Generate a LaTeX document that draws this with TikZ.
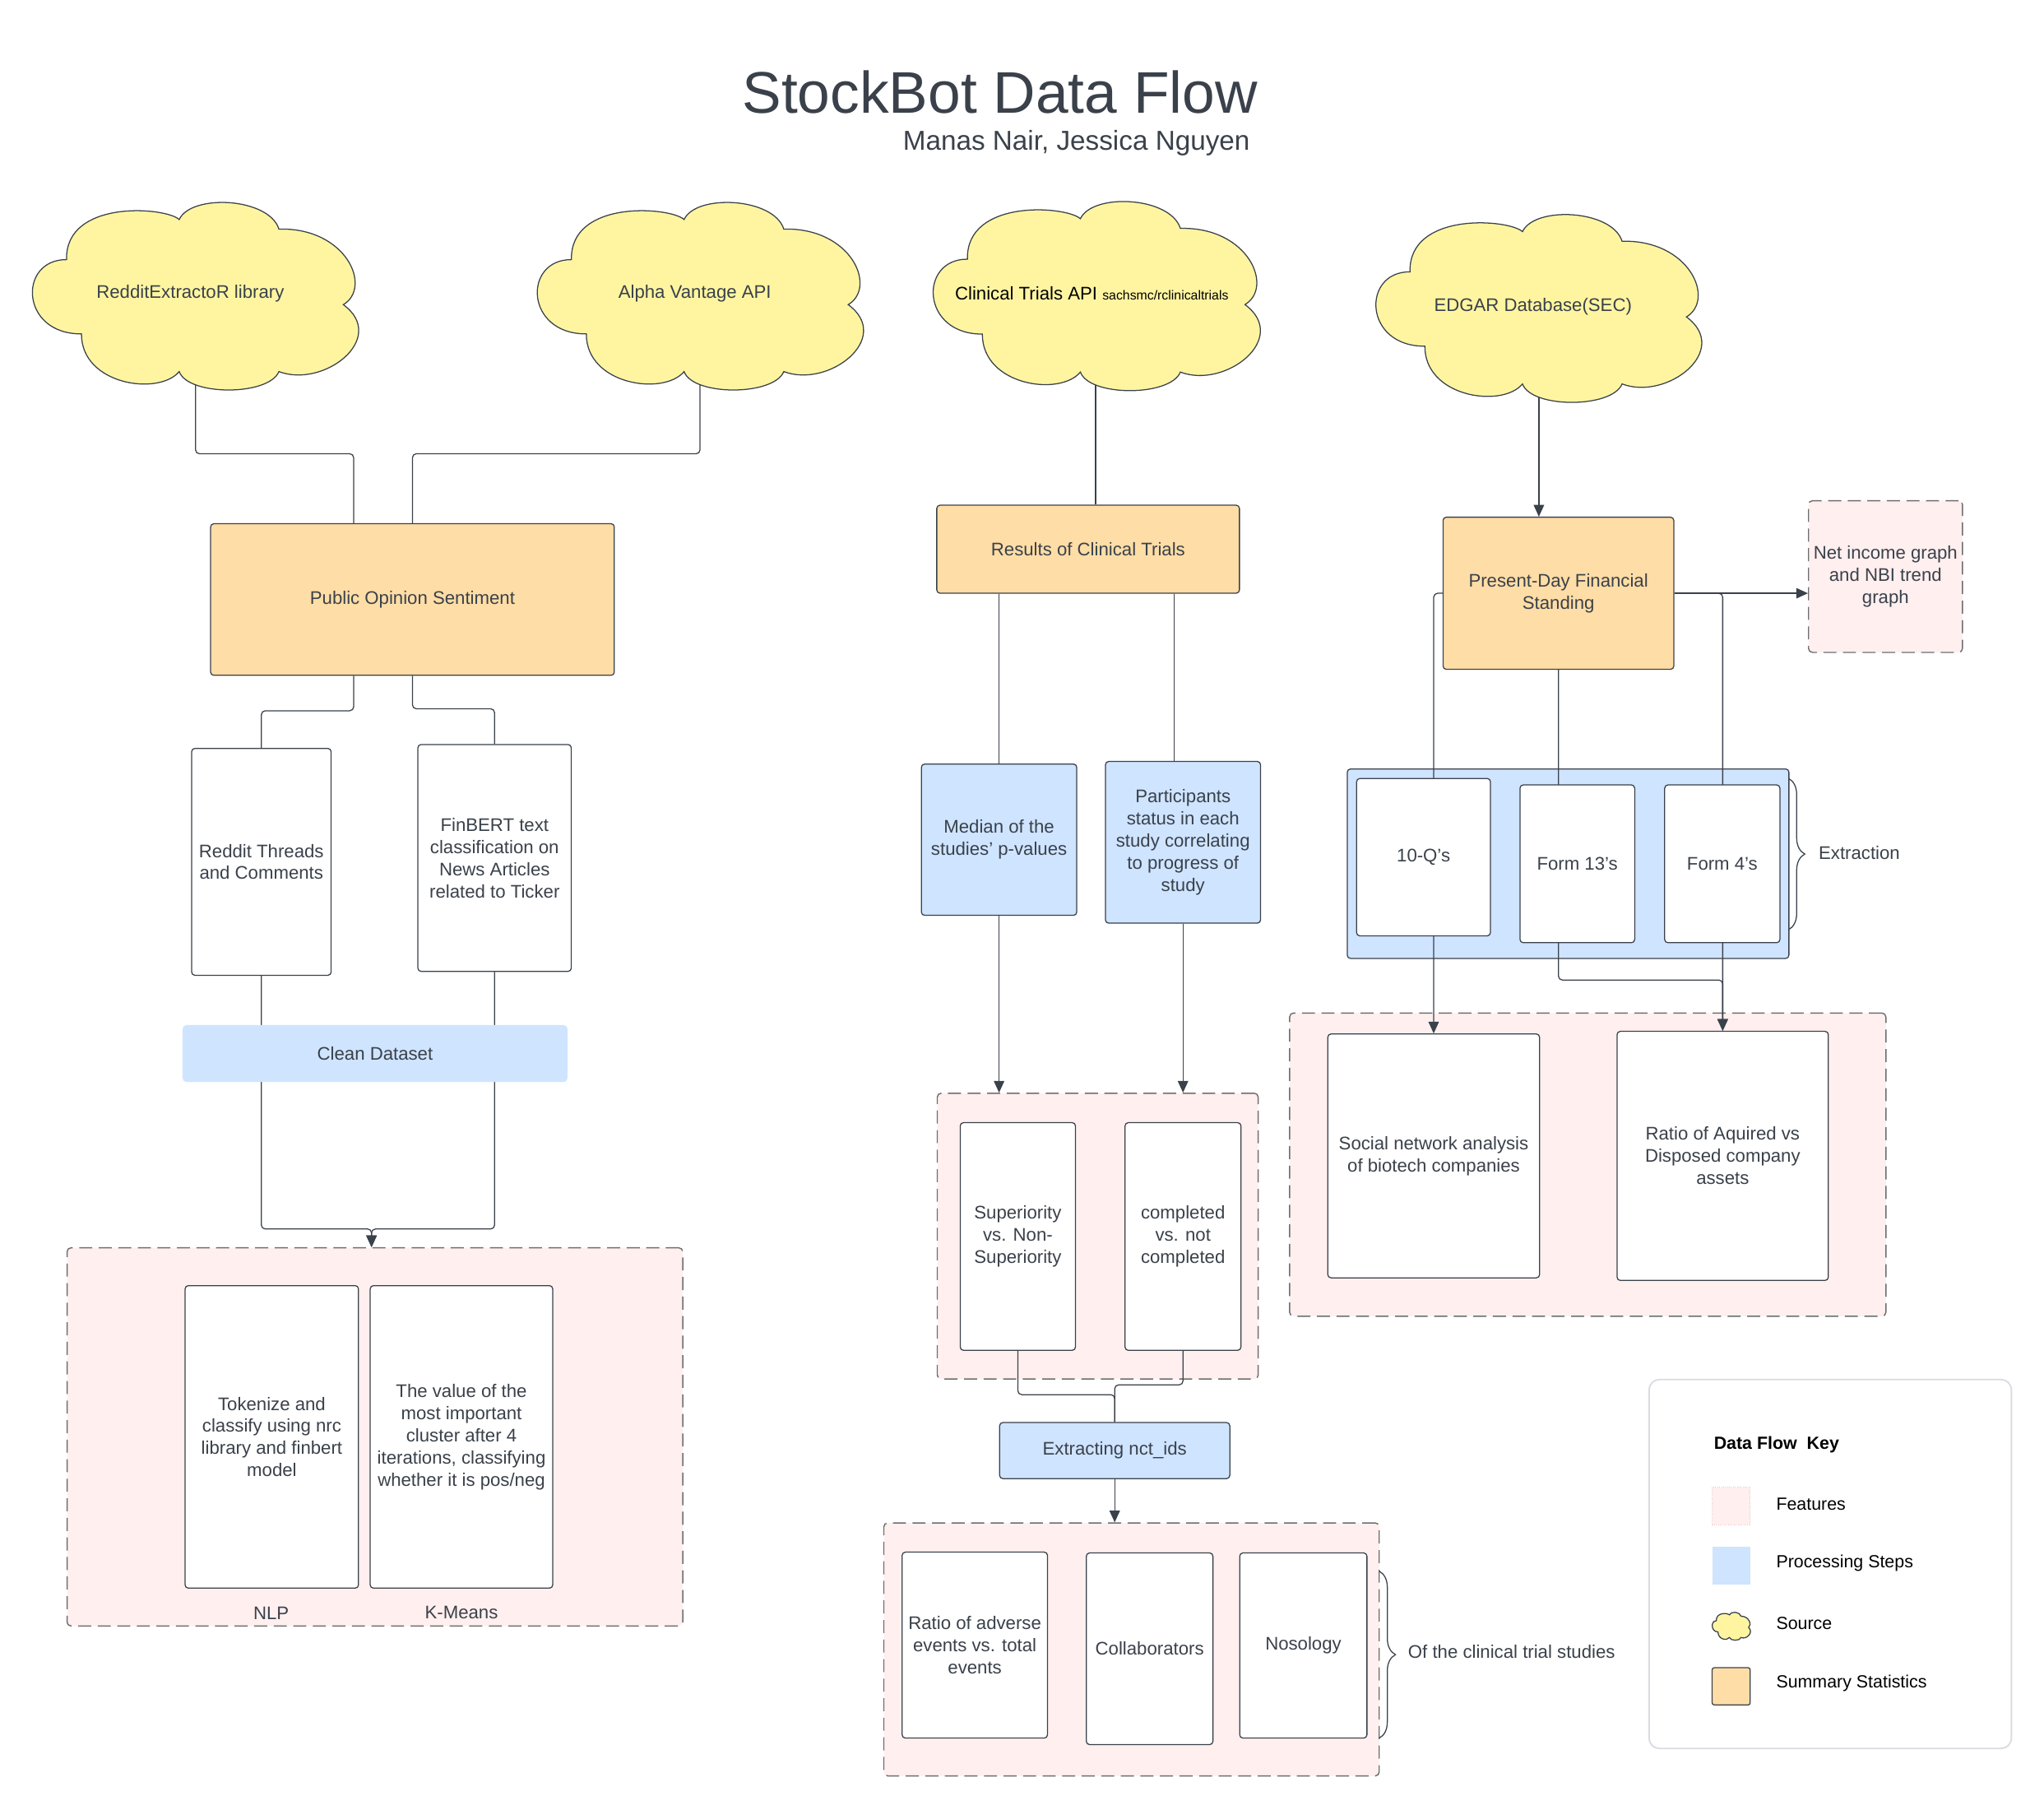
\documentclass[tikz,border=0pt]{standalone}
\usepackage{fontspec}
\setmainfont{Liberation Sans}
\usetikzlibrary{arrows.meta,decorations.pathreplacing,calc}
\definecolor{linec}{HTML}{3A414A}
\definecolor{textc}{HTML}{3A414A}
\definecolor{orangef}{HTML}{FFDDA6}
\definecolor{yellowf}{HTML}{FFF5A1}
\definecolor{bluef}{HTML}{CFE4FF}
\definecolor{pinkf}{HTML}{FFEFEF}
\definecolor{dashc}{HTML}{6E6E6E}
\definecolor{legbord}{HTML}{D9DCE1}
\definecolor{pinkbord}{HTML}{F2C4C4}
\pgfdeclarelayer{bg}\pgfdeclarelayer{edges}\pgfsetlayers{bg,edges,main}
\newcommand\myfs[2]{\fontsize{#1}{#2}\selectfont}
\newcommand\mycloudshape[4]{%
\begin{scope}[shift={(#1,#2)},xscale=#3,yscale=#4]
\draw[cloudsty] (0.105,0.302) .. controls (-0.045,0.30) and (-0.04,0.70) .. (0.151,0.698)
 .. controls (0.15,0.97) and (0.39,1.03) .. (0.453,0.899)
 .. controls (0.48,1.03) and (0.73,1.03) .. (0.761,0.899)
 .. controls (0.90,0.99) and (1.10,0.72) .. (0.960,0.542)
 .. controls (1.05,0.45) and (0.97,0.13) .. (0.761,0.139)
 .. controls (0.73,-0.03) and (0.49,-0.05) .. (0.453,0.088)
 .. controls (0.41,0.02) and (0.10,-0.02) .. (0.105,0.302) -- cycle;
\end{scope}}
\tikzset{
 sz/.style 2 args={minimum width=#1pt, minimum height=#2pt},
 txt/.style={text=textc, font=\myfs{14}{17}, align=center, inner sep=0pt},
 box/.style={txt, draw=linec, line width=0.8pt, rounded corners=2.5pt, fill=white},
 sumbox/.style={box, fill=orangef},
 procbox/.style={box, fill=bluef},
 featbox/.style={draw=dashc, dash pattern=on 10pt off 5pt, line width=0.9pt, fill=pinkf, rounded corners=3pt, inner sep=0pt},
 conn/.style={draw=linec, line width=0.8pt, rounded corners=3pt},
 arr/.style={conn, -{Triangle[length=9pt,width=8pt]}},
 cloudsty/.style={draw=linec, line width=0.8pt, fill=yellowf},
 keytxt/.style={anchor=west, text=black, font=\myfs{13.5}{16}, inner sep=0pt},
 bracesty/.style={draw=linec, line width=0.8pt, decorate, decoration={brace, amplitude=12.5pt}}
}
\begin{document}
\begin{tikzpicture}[x=1pt,y=-1pt]
\begin{pgfonlayer}{bg}
\fill[white] (0,0) rectangle (1568,1388);
\node[featbox, sz={472.3}{290}] (feat1) at (287.6,1102) {};
\node[featbox, sz={246.2}{219.1}] (feat2) at (842.1,948) {};
\node[featbox, sz={380}{194}] (feat3) at (868,1265) {};
\node[featbox, sz={457.4}{232.5}] (feat4) at (1218,893.2) {};
\node[featbox, txt, sz={118.1}{116.3}] (netinc) at (1446.4,442.2) {Net income graph\\and NBI trend\\graph};
\node[procbox, sz={338.8}{145.3}] (extract) at (1202.9,662.4) {};
\end{pgfonlayer}
\useasboundingbox (0,0) rectangle (1568,1388);

% title
\node[font=\myfs{45}{54}, text=textc, anchor=base, inner sep=0pt] (title) at (767,87) {StockBot Data Flow};
\node[font=\myfs{21}{25}, text=textc, anchor=base east, inner sep=0pt] (authors) at (959,115) {Manas Nair, Jessica Nguyen};

% clouds
\mycloudshape{25}{155.7}{248.3}{143.8}
\mycloudshape{412.3}{155.7}{248.3}{143.8}
\mycloudshape{716}{155}{249}{145}
\mycloudshape{1055.6}{165}{248}{144}
\node[txt] (c1) at (146,225) {RedditExtractoR library};
\node[txt] (c2) at (533,225) {Alpha Vantage API};
\node[txt, text=black] (c3) at (837.5,225) {Clinical Trials API {\myfs{10}{12}sachsmc/rclinicaltrials}};
\node[txt] (c4) at (1176,235) {EDGAR Database(SEC)};

% left column
\node[sumbox, sz={309.7}{116.3}] (pos) at (316.4,459.8) {Public Opinion Sentiment};
\node[box, sz={107}{174}] (reddit) at (200.5,661) {Reddit Threads\\and Comments};
\node[box, sz={117.7}{174}] (finbert) at (379.4,658) {FinBERT text\\classification on\\News Articles\\related to Ticker};
\node[txt, fill=bluef, rounded corners=3pt, sz={295.3}{43.6}] (clean) at (287.7,808) {Clean Dataset};
\node[box, sz={133}{232}] (token) at (208.5,1102) {Tokenize and\\classify using nrc\\library and finbert\\model};
\node[box, sz={140}{232}] (kmeans) at (354,1102) {The value of the\\most important\\cluster after 4\\iterations, classifying\\whether it is pos/neg};
\node[txt] (nlp) at (208,1237) {NLP};
\node[txt] (kml) at (354,1237) {K-Means};

% middle column
\node[sumbox, sz={232.2}{67.5}] (results) at (834.7,421.2) {Results of Clinical Trials};
\node[procbox, sz={119.2}{116}] (median) at (766.4,644) {Median of the\\studies' p-values};
\node[procbox, sz={119}{124}] (partic) at (907.5,646) {Participants\\status in each\\study correlating\\to progress of\\study};
\node[box, sz={88.4}{174.6}] (superior) at (780.8,948.3) {Superiority\\vs. Non-\\Superiority};
\node[box, sz={88.9}{174.6}] (completed) at (907.5,948.3) {completed\\vs. not\\completed};
\node[procbox, sz={176.6}{43}] (nct) at (855.1,1112.5) {Extracting nct\_ids};
\node[box, sz={111.5}{142.6}] (adverse) at (747.8,1261.7) {Ratio of adverse\\events vs. total\\events};
\node[box, sz={97.1}{147}] (collab) at (881.9,1264.5) {Collaborators};
\node[box, sz={97.6}{142}] (noso) at (999.8,1262) {Nosology};
\draw[bracesty] (1058,1205) -- (1058,1333);
\node[txt, anchor=west] (ofl) at (1080,1267) {Of the clinical trial studies};

% right column
\node[sumbox, sz={177}{116.7}] (PD) at (1195.5,455) {Present-Day Financial\\Standing};
\node[box, sz={102.7}{120.7}] (tenq) at (1092,657.4) {10-Q's};
\node[box, sz={88}{121}] (form13) at (1210,662.5) {Form 13's};
\node[box, sz={88.4}{121}] (form4) at (1321.2,662.5) {Form 4's};
\draw[bracesty] (1372,597) -- (1372,713);
\node[txt, anchor=west] (extl) at (1395,654) {Extraction};
\node[box, sz={162.5}{187}] (social) at (1099.8,886.5) {Social network analysis\\of biotech companies};
\node[box, sz={162.1}{191}] (ratioaq) at (1321.5,886.5) {Ratio of Aquired vs\\Disposed company\\assets};

% legend
\node[draw=legbord, line width=1.2pt, fill=white, rounded corners=8pt, sz={278}{283}] (legend) at (1404,1199.5) {};
\node[anchor=west, text=black, font=\myfs{13.5}{16}\bfseries, inner sep=0pt] (keyt) at (1314.6,1108) {Data Flow~~Key};
\node[fill=pinkf, draw=pinkbord, densely dotted, line width=0.5pt, sz={29.1}{28.7}] (kf) at (1328,1155) {};
\node[fill=bluef, sz={29.1}{29}] (kp) at (1328,1200.5) {};
\mycloudshape{1313.5}{1236.6}{29.1}{21.4}
\node[fill=orangef, draw=linec, line width=0.8pt, rounded corners=1.5pt, sz={29.1}{28.5}] (kss) at (1328,1293.3) {};
\node[keytxt] (kft) at (1362.4,1153.6) {Features};
\node[keytxt] (kpt) at (1362.4,1199) {Processing Steps};
\node[keytxt] (kst) at (1362.4,1245) {Source};
\node[keytxt] (ksst) at (1362.4,1291) {Summary Statistics};

% connectors
\begin{pgfonlayer}{edges}
\draw[conn] ([xshift=4pt]c1.south) |- (271.3,348) -- ([xshift=-45.1pt]pos.north);
\draw[conn] ([xshift=4pt]c2.south) |- (316.4,348) -- (pos.north);
\draw[conn] ([xshift=-45.1pt]pos.south) |- ([yshift=28.5pt]reddit.north) -- (reddit.north);
\draw[conn] (pos.south) |- ([yshift=27pt]finbert.north) -- (finbert.north);
\draw[arr] (reddit.south) |- ([xshift=-2.6pt,yshift=14pt]feat1.north) -- ([xshift=-2.6pt]feat1.north);
\draw[arr] (finbert.south) |- ([xshift=-2.6pt,yshift=14pt]feat1.north) -- ([xshift=-2.6pt]feat1.north);
\draw[conn] ([xshift=5.8pt]results.north |- c3.south) -- ([xshift=5.8pt]results.north);
\draw[conn] ([xshift=-68.3pt]results.south) -- (median.north);
\draw[conn] ([xshift=66pt]results.south) -- ([xshift=-6.8pt]partic.north);
\draw[arr] (median.south) -- (median.south |- feat2.north);
\draw[arr] (partic.south) -- (partic.south |- feat2.north);
\draw[conn] (superior.south) |- ([yshift=21pt]nct.north) -- (nct.north);
\draw[conn] (completed.south) |- ([yshift=28.5pt]nct.north) -- (nct.north);
\draw[arr] (nct.south) -- (nct.south |- feat3.north);
\draw[arr] ([xshift=4.5pt]c4.south) -- ([xshift=-15pt]PD.north);
\draw[arr] (PD.east) -- (PD.east -| netinc.west);
\draw[arr] (PD.west) -| (social.north);
\draw[arr] (PD.east) -| (ratioaq.north);
\draw[arr] (PD.south) |- ([yshift=39pt]ratioaq.north) -- (ratioaq.north);
\end{pgfonlayer}
\end{tikzpicture}
\end{document}
